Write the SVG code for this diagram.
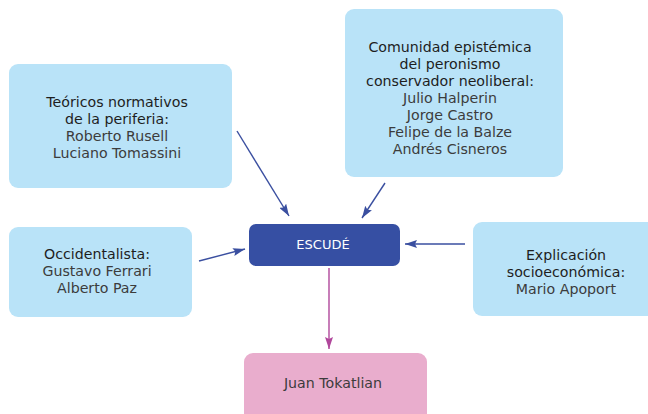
<svg xmlns="http://www.w3.org/2000/svg" width="648" height="414" viewBox="0 0 648 414">
<style>
.box{fill:#b9e3f8}
.t{font-family:"DejaVu Sans","Liberation Sans",sans-serif;font-size:14.2px;text-anchor:middle}
.h{fill:#1e1e1e}
.n{fill:#3c3c3c}
.c{stroke:#3a4fa0;stroke-width:1.4;fill:none;marker-end:url(#ab)}
.p{stroke:#b0479b;stroke-width:1.4;fill:none;marker-end:url(#ap)}
</style>
<defs>
<marker id="ab" markerUnits="userSpaceOnUse" markerWidth="12" markerHeight="8" refX="12" refY="4" orient="auto"><path d="M0,0 L12,4 L0,8 L2,4 z" fill="#3a4fa0"/></marker>
<marker id="ap" markerUnits="userSpaceOnUse" markerWidth="12" markerHeight="8" refX="12" refY="4" orient="auto"><path d="M0,0 L12,4 L0,8 L2,4 z" fill="#b0479b"/></marker>
</defs>
<rect width="648" height="414" fill="#ffffff"/>
<g id="teoricos">
<rect class="box" x="9" y="64" width="223" height="124" rx="9"/>
<text class="t h" x="117" y="107">Teóricos normativos</text>
<text class="t h" x="117" y="124">de la periferia:</text>
<text class="t n" x="117" y="141">Roberto Rusell</text>
<text class="t n" x="117" y="158">Luciano Tomassini</text>
</g>
<g id="comunidad">
<rect class="box" x="345" y="9" width="218" height="168" rx="9"/>
<text class="t h" x="450" y="52">Comunidad epistémica</text>
<text class="t h" x="450" y="69">del peronismo</text>
<text class="t h" x="450" y="86">conservador neoliberal:</text>
<text class="t n" x="450" y="103">Julio Halperin</text>
<text class="t n" x="450" y="120">Jorge Castro</text>
<text class="t n" x="450" y="137">Felipe de la Balze</text>
<text class="t n" x="450" y="154">Andrés Cisneros</text>
</g>
<g id="occidentalista">
<rect class="box" x="9" y="227" width="183" height="90" rx="9"/>
<text class="t h" x="97" y="259">Occidentalista:</text>
<text class="t n" x="97" y="276">Gustavo Ferrari</text>
<text class="t n" x="97" y="293">Alberto Paz</text>
</g>
<g id="escude">
<rect x="249" y="224" width="151" height="42" rx="7" fill="#364fa3"/>
<text class="t" x="323" y="249" fill="#ffffff" style="font-size:13px">ESCUDÉ</text>
</g>
<g id="explicacion">
<rect class="box" x="473" y="222" width="190" height="94" rx="9"/>
<text class="t h" x="566" y="260">Explicación</text>
<text class="t h" x="566" y="277">socioeconómica:</text>
<text class="t n" x="566" y="294">Mario Apoport</text>
</g>
<g id="tokatlian">
<rect x="244" y="353" width="183" height="80" rx="9" fill="#e9adcd"/>
<text class="t n" x="333" y="388">Juan Tokatlian</text>
</g>
<g id="connectors">
<line class="c" x1="237" y1="131" x2="289" y2="216"/>
<line class="c" x1="385" y1="183" x2="362" y2="218"/>
<line class="c" x1="199" y1="261" x2="245" y2="249"/>
<line class="c" x1="465" y1="244" x2="405" y2="244"/>
<line class="p" x1="329" y1="268" x2="329" y2="349"/>
</g>
</svg>
